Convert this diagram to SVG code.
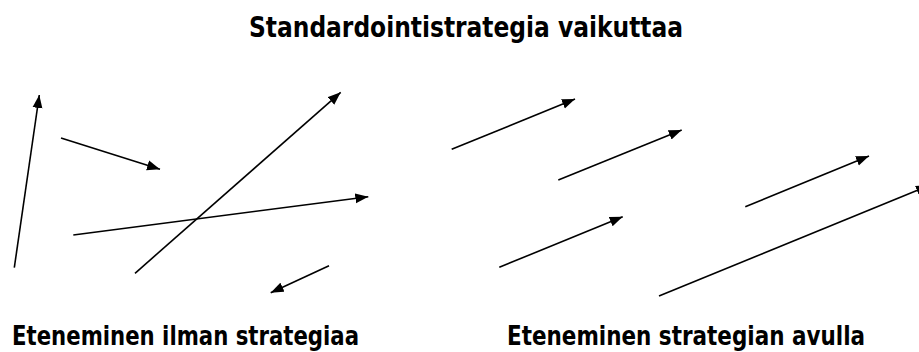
<svg xmlns="http://www.w3.org/2000/svg" width="919" height="352" viewBox="0 0 919 352">
<style>
.t{font-family:"Liberation Sans Narrow","DejaVu Sans Condensed","Liberation Sans",sans-serif;font-weight:bold;font-size:28px;fill:#000}
.l{font-size:26px}
.a{stroke:#000;stroke-width:1.6;fill:none;marker-end:url(#h)}
</style>
<defs>
<marker id="h" markerUnits="userSpaceOnUse" markerWidth="14" markerHeight="11" refX="13" refY="5.5" orient="auto">
<path d="M0,0.5 L13,5.5 L0,10.5 z" fill="#000"/>
</marker>
</defs>
<rect width="919" height="352" fill="#fff"/>
<g id="title"><text class="t" x="249" y="37" textLength="434" lengthAdjust="spacingAndGlyphs">Standardointistrategia vaikuttaa</text></g>
<g id="label-left"><text class="t l" x="12" y="345" textLength="347" lengthAdjust="spacingAndGlyphs">Eteneminen ilman strategiaa</text></g>
<g id="label-right"><text class="t l" x="507" y="345" textLength="358" lengthAdjust="spacingAndGlyphs">Eteneminen strategian avulla</text></g>
<g id="connectors">
<line class="a" x1="14.3" y1="267.7" x2="39.3" y2="95"/>
<line class="a" x1="61" y1="138" x2="160" y2="169.3"/>
<line class="a" x1="73.3" y1="235" x2="368.3" y2="196.7"/>
<line class="a" x1="135" y1="273.3" x2="340.7" y2="92.3"/>
<line class="a" x1="329" y1="265.7" x2="270.7" y2="292.7"/>
<line class="a" x1="451.7" y1="149.3" x2="575" y2="99"/>
<line class="a" x1="558.3" y1="180" x2="681.7" y2="130"/>
<line class="a" x1="499.3" y1="267.3" x2="622.7" y2="216.7"/>
<line class="a" x1="745.3" y1="206.7" x2="869" y2="156"/>
<line class="a" x1="659" y1="296" x2="929" y2="185.6"/>
</g>
</svg>
